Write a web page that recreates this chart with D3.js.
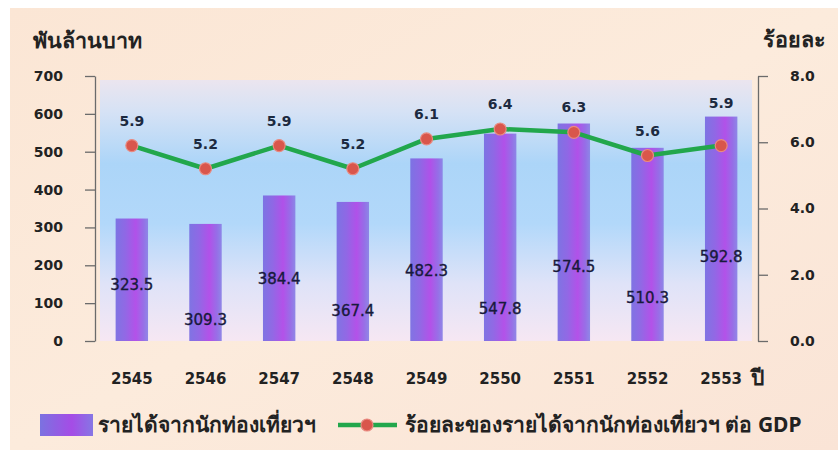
<!DOCTYPE html>
<html>
<head>
<meta charset="utf-8">
<script src="https://cdn.jsdelivr.net/npm/d3@7/dist/d3.min.js"></script>
<style>
  html, body { margin: 0; padding: 0; background: #ffffff; }
  svg { display: block; }
  .num { font-family: "DejaVu Sans", sans-serif; }
</style>
</head>
<body>
<svg id="chart" width="838" height="450"></svg>
<script>
// Tourism revenue (billion baht) and its share of GDP (%), B.E. 2545–2553
const years = ["2545", "2546", "2547", "2548", "2549", "2550", "2551", "2552", "2553"];
const revenue = [323.5, 309.3, 384.4, 367.4, 482.3, 547.8, 574.5, 510.3, 592.8];
const shareOfGdp = [5.9, 5.2, 5.9, 5.2, 6.1, 6.4, 6.3, 5.6, 5.9];
// where each revenue label sits inside its bar, in left-axis units
const revenueLabelAt = [148, 56, 165, 80, 186, 85, 195, 115, 222];
const leftTicks = [0, 100, 200, 300, 400, 500, 600, 700];
const rightTicks = [0, 2, 4, 6, 8];

const leftTitle = "พันล้านบาท";
const rightTitle = "ร้อยละ";
const xTitle = "ปี";
const legendBar = "รายได้จากนักท่องเที่ยวฯ";
const legendLine = "ร้อยละของรายได้จากนักท่องเที่ยวฯ ต่อ GDP";

const svg = d3.select("#chart");
const defs = svg.append("defs");

const plot = { left: 95, right: 758, top: 76, bottom: 341 };

const x = d3.scaleBand().domain(years).range([plot.left, plot.right]).paddingInner(0.56).paddingOuter(0.28);
const yL = d3.scaleLinear().domain([0, 700]).range([plot.bottom, plot.top]);
const yR = d3.scaleLinear().domain([0, 8]).range([plot.bottom, plot.top]);

// page background
const bgGrad = defs.append("linearGradient").attr("id", "bgGrad").attr("x1", 0).attr("y1", 0).attr("x2", 1).attr("y2", 1);
bgGrad.append("stop").attr("offset", "0%").attr("stop-color", "#fbe6d5");
bgGrad.append("stop").attr("offset", "50%").attr("stop-color", "#fcebdc");
bgGrad.append("stop").attr("offset", "100%").attr("stop-color", "#fae4d6");
svg.append("rect").attr("x", 10).attr("y", 8).attr("width", 828).attr("height", 442).attr("fill", "url(#bgGrad)");

// plot area wash
const plotGrad = defs.append("linearGradient").attr("id", "plotGrad").attr("x1", 0).attr("y1", 0).attr("x2", 0).attr("y2", 1);
[["0%", "#ebe5ef"], ["12%", "#d6e2f5"], ["32%", "#acd5f8"], ["55%", "#b2d8fa"], ["78%", "#dfe3f8"], ["100%", "#f6e7f3"]]
  .forEach(([o, c]) => plotGrad.append("stop").attr("offset", o).attr("stop-color", c));
svg.append("rect")
  .attr("x", plot.left + 5).attr("y", plot.top + 4)
  .attr("width", plot.right - plot.left - 11).attr("height", plot.bottom - plot.top - 4)
  .attr("fill", "url(#plotGrad)");

// bar fill
const barGrad = defs.append("linearGradient").attr("id", "barGrad").attr("x1", 0).attr("y1", 0).attr("x2", 1).attr("y2", 0);
[["0%", "#7a6ee2"], ["30%", "#8d62e4"], ["62%", "#b04ae8"], ["85%", "#9468e6"], ["100%", "#8a82e6"]]
  .forEach(([o, c]) => barGrad.append("stop").attr("offset", o).attr("stop-color", c));

svg.append("g").selectAll("rect").data(years).join("rect")
  .attr("x", d => x(d))
  .attr("y", (d, i) => yL(revenue[i]))
  .attr("width", x.bandwidth())
  .attr("height", (d, i) => yL(0) - yL(revenue[i]))
  .attr("fill", "url(#barGrad)")
  .attr("opacity", 0.95);

// revenue labels
svg.append("g").selectAll("text").data(years).join("text")
  .attr("class", "num")
  .attr("x", d => x(d) + x.bandwidth() / 2)
  .attr("y", (d, i) => yL(revenueLabelAt[i]))
  .attr("dy", "0.35em")
  .attr("text-anchor", "middle")
  .attr("font-size", 15)
  .attr("fill", "#181a3c")
  .attr("stroke", "#181a3c").attr("stroke-width", 0.35)
  .text((d, i) => revenue[i].toFixed(1));

// left axis
const axisL = svg.append("g").attr("transform", `translate(${plot.left},0)`)
  .call(d3.axisLeft(yL).tickValues(leftTicks).tickSize(10).tickSizeOuter(0).tickPadding(22).tickFormat(d3.format("d")));
axisL.select(".domain").attr("stroke", "#6b6b6b").attr("stroke-width", 1.3);
axisL.selectAll(".tick line").attr("stroke", "#6b6b6b").attr("stroke-width", 1.3);
axisL.selectAll(".tick text").attr("class", "num").attr("font-size", 14).attr("font-weight", "bold").attr("fill", "#222");

// right axis
const axisR = svg.append("g").attr("transform", `translate(${plot.right},0)`)
  .call(d3.axisRight(yR).tickValues(rightTicks).tickSize(10).tickSizeOuter(0).tickPadding(22).tickFormat(d3.format(".1f")));
axisR.select(".domain").attr("stroke", "#6b6b6b").attr("stroke-width", 1.3);
axisR.selectAll(".tick line").attr("stroke", "#6b6b6b").attr("stroke-width", 1.3);
axisR.selectAll(".tick text").attr("class", "num").attr("font-size", 14).attr("font-weight", "bold").attr("fill", "#222");

// category labels
const axisX = svg.append("g").attr("transform", `translate(0,${plot.bottom})`)
  .call(d3.axisBottom(x).tickSize(0).tickPadding(32));
axisX.select(".domain").remove();
axisX.selectAll(".tick text").attr("class", "num").attr("font-size", 15).attr("font-weight", "bold").attr("fill", "#222");

// share-of-GDP line
const cx = d => x(d) + x.bandwidth() / 2;
const line = d3.line().x((d, i) => cx(years[i])).y(d => yR(d));
svg.append("path").datum(shareOfGdp)
  .attr("d", line).attr("fill", "none")
  .attr("stroke", "#22a74c").attr("stroke-width", 4.5).attr("stroke-linejoin", "round");

svg.append("g").selectAll("circle").data(shareOfGdp).join("circle")
  .attr("cx", (d, i) => cx(years[i]))
  .attr("cy", d => yR(d))
  .attr("r", 6)
  .attr("fill", "#d9564c")
  .attr("stroke", "#e98a80").attr("stroke-width", 1.2);

// percent labels sit above the marker, or above the bar when the bar is taller
svg.append("g").selectAll("text").data(shareOfGdp).join("text")
  .attr("class", "num")
  .attr("x", (d, i) => cx(years[i]))
  .attr("y", (d, i) => Math.min(yR(d) - 25, yL(revenue[i]) - 14) + 5)
  .attr("text-anchor", "middle")
  .attr("font-size", 14).attr("font-weight", "bold")
  .attr("fill", "#1c2a40")
  .text(d => d.toFixed(1));

// titles
const thaiFont = "'Noto Sans', 'DejaVu Sans', sans-serif";
svg.append("text").attr("x", 33).attr("y", 48).attr("font-family", thaiFont).attr("font-size", 21.5).attr("font-weight", "bold").attr("fill", "#222").text(leftTitle);
svg.append("text").attr("x", 763).attr("y", 47).attr("font-family", thaiFont).attr("font-size", 21.5).attr("font-weight", "bold").attr("fill", "#222").text(rightTitle);
svg.append("text").attr("x", 751).attr("y", 385).attr("font-family", thaiFont).attr("font-size", 21).attr("font-weight", "bold").attr("fill", "#222").text(xTitle);

// legend
const legendY = 425;
const swGrad = defs.append("linearGradient").attr("id", "swGrad").attr("x1", 0).attr("y1", 0).attr("x2", 1).attr("y2", 0);
[["0%", "#7b72e0"], ["60%", "#a54ce6"], ["100%", "#8676e4"]]
  .forEach(([o, c]) => swGrad.append("stop").attr("offset", o).attr("stop-color", c));
svg.append("rect").attr("x", 40).attr("y", legendY - 11).attr("width", 53).attr("height", 22).attr("fill", "url(#swGrad)");
svg.append("text").attr("x", 98).attr("y", legendY).attr("dy", "0.35em").attr("font-family", thaiFont).attr("font-size", 21).attr("font-weight", "bold").attr("fill", "#222").text(legendBar);
svg.append("line").attr("x1", 338).attr("x2", 397).attr("y1", legendY).attr("y2", legendY).attr("stroke", "#22a74c").attr("stroke-width", 4.5);
svg.append("circle").attr("cx", 367).attr("cy", legendY).attr("r", 6).attr("fill", "#d9564c").attr("stroke", "#e98a80").attr("stroke-width", 1.2);
svg.append("text").attr("x", 405).attr("y", legendY).attr("dy", "0.35em").attr("font-family", thaiFont).attr("font-size", 21).attr("font-weight", "bold").attr("fill", "#222").text(legendLine);
</script>
</body>
</html>
